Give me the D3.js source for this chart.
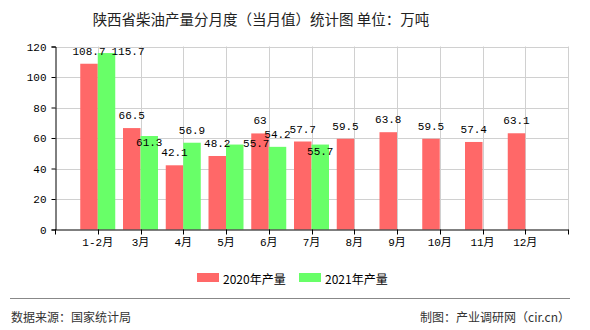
<!DOCTYPE html>
<html><head><meta charset="utf-8">
<script src="https://cdn.jsdelivr.net/npm/d3@7"></script>
<style>
html,body{margin:0;padding:0;background:#fff;}
svg{display:block;}
</style></head>
<body>
<svg id="chart" width="590" height="330"></svg>
<script>
const title = "陕西省柴油产量分月度（当月值）统计图 单位：万吨";
const categories = ["1-2月","3月","4月","5月","6月","7月","8月","9月","10月","11月","12月"];
const values2020 = [108.7,66.5,42.1,48.2,63,57.7,59.5,63.8,59.5,57.4,63.1];
const values2021 = [115.7,61.3,56.9,55.7,54.2,55.7];
const seriesNames = ["2020年产量","2021年产量"];
const seriesColors = ["#ff6868","#68ff68"];
const yTicks = [0,20,40,60,80,100,120];
const sourceText = "数据来源：国家统计局";
const creditText = "制图：产业调研网（cir.cn）";

const svg = d3.select("#chart");
const cjk = "'Noto Sans CJK SC','Noto Sans',sans-serif";
const mono = "'Liberation Mono','DejaVu Sans Mono',monospace";
const L = 55, R = 568, T = 46.5, B = 229.5;

const x = d3.scalePoint().domain(categories).range([L, R]).padding(1);
const y = d3.scaleLinear().domain([0, 120]).range([B, T]);
const bw = 17.5;

// title
svg.append("text").attr("x", 261).attr("y", 18).attr("text-anchor","middle")
  .attr("dominant-baseline","central").style("font-family", cjk).style("font-size","14.5px")
  .attr("fill","#222").text(title);

// grid
const g = svg.append("g");
g.selectAll(".hg").data(yTicks.filter(d=>d>0)).join("line")
  .attr("x1", L).attr("x2", R).attr("y1", d=>Math.round(y(d))+0.5).attr("y2", d=>Math.round(y(d))+0.5)
  .attr("stroke","#d0d0d0").attr("stroke-width",1);
const vPos = categories.map(c=>x(c)).concat([R]);
g.selectAll(".vg").data(vPos).join("line")
  .attr("x1", d=>Math.round(d)+0.5).attr("x2", d=>Math.round(d)+0.5).attr("y1", T).attr("y2", B)
  .attr("stroke","#d0d0d0").attr("stroke-width",1);

// bars
const bars = svg.append("g");
bars.selectAll(".b0").data(values2020).join("rect")
  .attr("x", (d,i)=>x(categories[i]) - bw).attr("width", bw)
  .attr("y", d=>y(d)).attr("height", d=>B - y(d)).attr("fill", seriesColors[0]);
bars.selectAll(".b1").data(values2021).join("rect")
  .attr("x", (d,i)=>x(categories[i])).attr("width", bw)
  .attr("y", d=>y(d)).attr("height", d=>B - y(d)).attr("fill", seriesColors[1]);

// axes
const yAxis = d3.axisLeft(y).tickValues(yTicks).tickSize(4).tickPadding(5);
const ya = svg.append("g").attr("transform", `translate(${L+0.5},0)`).call(yAxis);
ya.select(".domain").attr("stroke","#000");
ya.selectAll(".tick line").attr("stroke","#000");
ya.selectAll("text").style("font-family", mono).style("font-size","11px").attr("fill","#000");

const xa = svg.append("g").attr("transform", `translate(0,${B})`);
xa.append("line").attr("x1", L).attr("x2", R+0.5).attr("y1",0.5).attr("y2",0.5).attr("stroke","#000");
xa.selectAll(".xt").data([L].concat(vPos)).join("line")
  .attr("x1", d=>Math.round(d)+0.5).attr("x2", d=>Math.round(d)+0.5).attr("y1",0).attr("y2",5).attr("stroke","#000");
xa.selectAll(".xl").data(categories).join("text")
  .attr("x", d=>x(d)).attr("y", 13).attr("text-anchor","middle").attr("dominant-baseline","central")
  .style("font-family", mono + "," + cjk).style("font-size","11px").attr("fill","#000")
  .text(d=>d);

// data labels with simple overlap avoidance
const lab = svg.append("g").style("font-family", mono).style("font-size","11px").attr("fill","#000");
const H = 12.5;
function box(cx, base, w){ return {x0:cx-w/2, x1:cx+w/2, y0:base-H, y1:base}; }
function overlap(a,b){ return a.x0<b.x1 && b.x0<a.x1 && a.y0<b.y1 && b.y0<a.y1; }
const redBoxes = [];
values2020.forEach((v,i)=>{
  const cx = x(categories[i]) - bw/2, base = y(v) - 9;
  const t = lab.append("text").attr("x", cx).attr("y", base).attr("text-anchor","middle").text(v);
  redBoxes[i] = box(cx, base, t.node().getComputedTextLength());
});
values2021.forEach((v,i)=>{
  const t = lab.append("text").attr("text-anchor","middle").text(v);
  const w = t.node().getComputedTextLength();
  let cx = x(categories[i]) + bw/2, base = y(v) - 9;
  if (overlap(box(cx, base, w), redBoxes[i])) {
    base = y(v) + 10;
    if (overlap(box(cx, base, w), redBoxes[i])) {
      cx = x(categories[i]) + bw/2 + bw + 4;
      base = redBoxes[i].y1;
    }
  }
  t.attr("x", cx).attr("y", base);
});

// legend
const leg = svg.append("g");
const legX = [197, 299];
seriesNames.forEach((n,i)=>{
  leg.append("rect").attr("x", legX[i]).attr("y", 273).attr("width", 22).attr("height", 9).attr("fill", seriesColors[i]);
  leg.append("text").attr("x", legX[i]+26).attr("y", 278).attr("dominant-baseline","central")
    .style("font-family", cjk).style("font-size","12px").attr("fill","#000").text(n);
});

// footer
svg.append("line").attr("x1",10).attr("x2",570).attr("y1",298.5).attr("y2",298.5).attr("stroke","#888").attr("stroke-width",1);
svg.append("text").attr("x",11).attr("y",316.5).attr("dominant-baseline","central")
  .style("font-family", cjk).style("font-size","12px").attr("fill","#333").text(sourceText);
svg.append("text").attr("x",570).attr("y",316.5).attr("text-anchor","end").attr("dominant-baseline","central")
  .style("font-family", cjk).style("font-size","12px").attr("fill","#333").text(creditText);
</script>
</body></html>
